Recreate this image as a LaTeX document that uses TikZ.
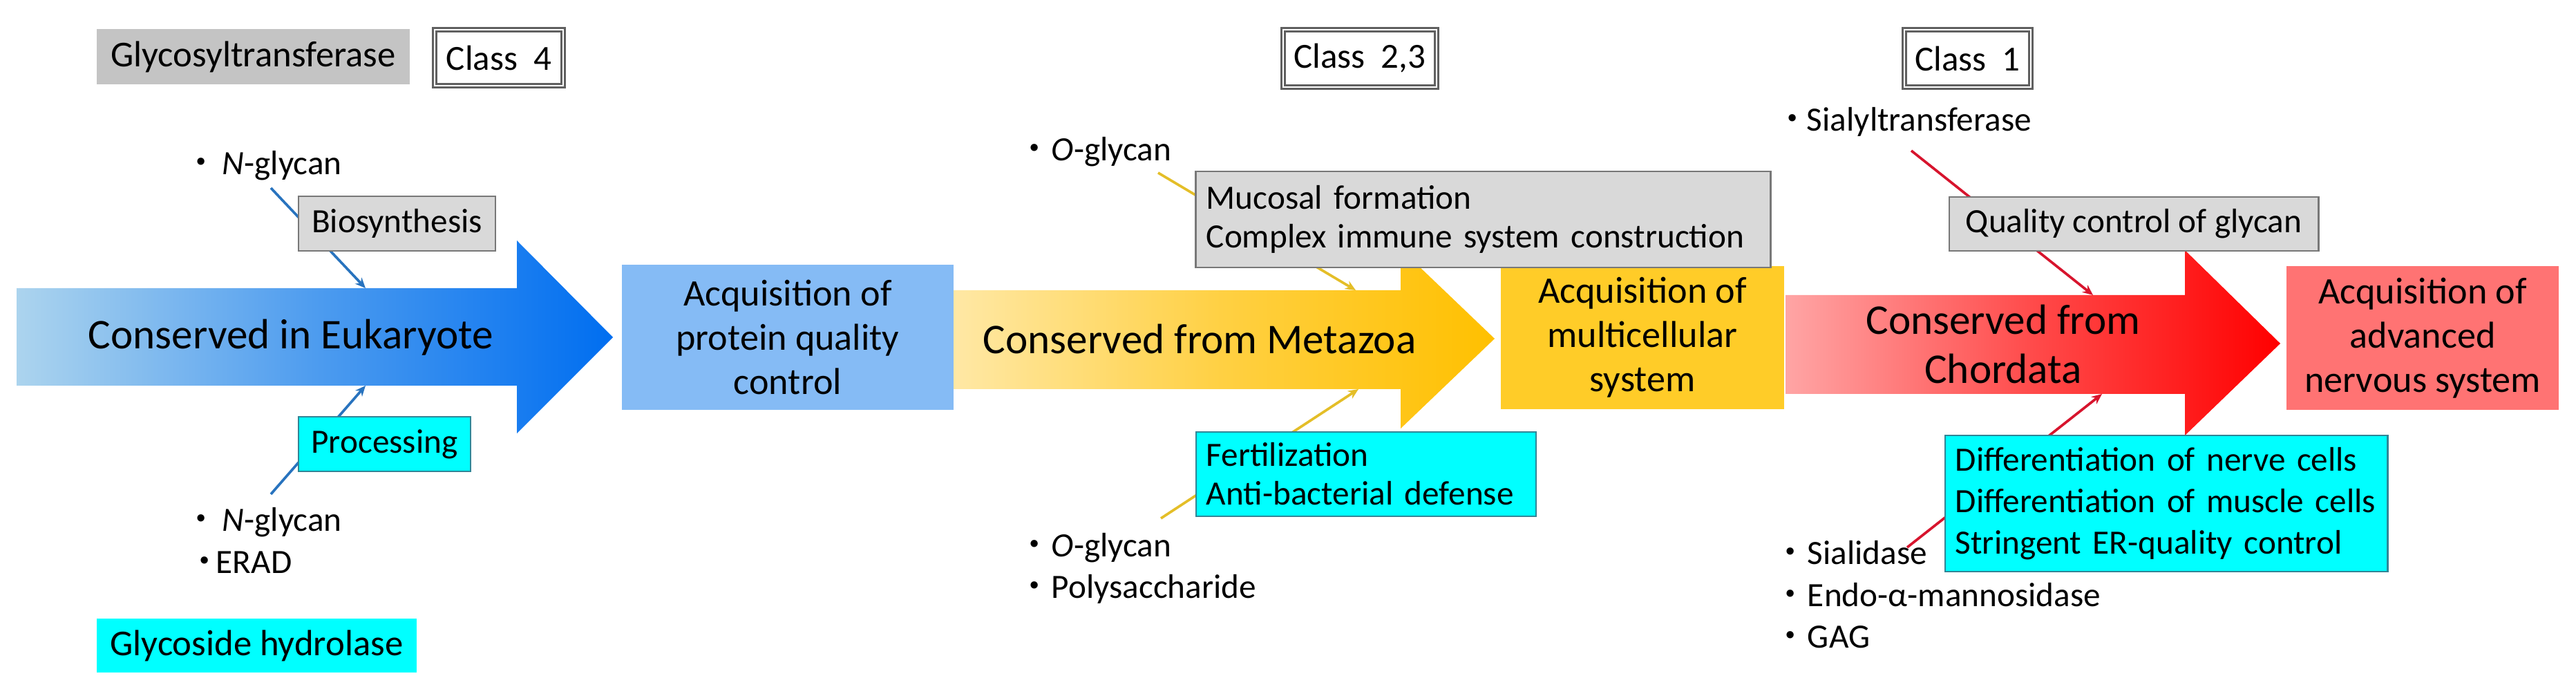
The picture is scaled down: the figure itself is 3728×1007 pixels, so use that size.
\documentclass[tikz,border=0pt]{standalone}
\usepackage{fontspec}
\setmainfont{Carlito}
\newfontfamily\cjkf{Noto Sans CJK JP}
\usetikzlibrary{arrows.meta}
\definecolor{blA}{RGB}{172,212,238}
\definecolor{blB}{RGB}{0,110,240}
\definecolor{yeA}{RGB}{255,232,165}
\definecolor{yeB}{RGB}{255,192,0}
\definecolor{reA}{RGB}{255,165,165}
\definecolor{reB}{RGB}{255,0,0}
\definecolor{accBlue}{RGB}{133,187,245}
\definecolor{accYel}{RGB}{255,204,40}
\definecolor{accRed}{RGB}{255,115,115}
\definecolor{lgray}{RGB}{217,217,217}
\definecolor{mgray}{RGB}{196,196,196}
\definecolor{bgray}{RGB}{120,120,120}
\definecolor{cyanF}{RGB}{0,255,255}
\definecolor{tealB}{RGB}{49,133,150}
\definecolor{lnBlue}{RGB}{40,115,190}
\definecolor{lnYel}{RGB}{228,190,40}
\definecolor{lnRed}{RGB}{215,20,45}
\newcommand\bul{{\cjkf ・}}
\begin{document}
\begin{tikzpicture}[x=0.01cm,y=-0.01cm,
  lab/.style={font=\fontsize{14}{16}\selectfont, inner sep=0pt, anchor=base west},
  hdr/.style={font=\fontsize{15}{17}\selectfont, inner sep=0pt},
  big/.style={font=\fontsize{17.4}{20.2}\selectfont, align=center, inner sep=0pt},
  acc/.style={font=\fontsize{15.4}{18.2}\selectfont, align=center, inner sep=0pt},
  graybox/.style={draw=bgray, line width=0.75pt, fill=lgray, font=\fontsize{14}{15.9}\selectfont, inner sep=0pt},
  cyanbox/.style={draw=tealB, line width=0.75pt, fill=cyanF, font=\fontsize{14}{15.9}\selectfont, inner sep=0pt},
  classbox/.style={draw=gray!75!black, double, line width=0.9pt, double distance=0.7pt, fill=white, font=\fontsize{14.5}{16}\selectfont, inner sep=0pt},
  conn/.style={line width=1.05pt, -{Stealth[length=0.15cm,width=0.13cm]}}
]
\path[use as bounding box] (0,0) rectangle (3728,1007);

% big arrows
\shade[left color=blA, right color=blB, middle color=blB!55!blA] (24,417) -- (748,417) -- (748,348) -- (887,488) -- (748,627) -- (748,558) -- (24,558) -- cycle;
\shade[left color=yeA, right color=yeB, middle color=yeB!60!yeA] (1380,420) -- (2027,420) -- (2027,360) -- (2163,490) -- (2027,620) -- (2027,563) -- (1380,563) -- cycle;
\shade[left color=reA, right color=reB, middle color=reB!55!reA] (2584,427) -- (3162,427) -- (3162,362) -- (3300,497) -- (3162,630) -- (3162,570) -- (2584,570) -- cycle;

\node[big] (euk) at (421,488) {Conserved in Eukaryote};
\node[big] (meta) at (1736,490) {Conserved from Metazoa};
\node[big] (chor) at (2899,498) {Conserved from\\Chordata};

% acquisition boxes
\node[acc, fill=accBlue, minimum width=4.80cm, minimum height=2.10cm] (accP) at (1140,488) {Acquisition of\\protein quality\\control};
\node[acc, fill=accYel, minimum width=4.10cm, minimum height=2.07cm] (accM) at (2377,488.5) {Acquisition of\\multicellular\\system};
\node[acc, fill=accRed, minimum width=3.94cm, minimum height=2.08cm] (accN) at (3506,489) {Acquisition of\\advanced\\nervous system};

% headers
\node[hdr, fill=mgray, minimum width=4.53cm, minimum height=0.80cm] (gt) at (366.5,82) {Glycosyltransferase};
\node[classbox, minimum width=1.86cm, minimum height=0.81cm] (c4) at (722,83.5) {Class\ \ 4};
\node[classbox, minimum width=2.22cm, minimum height=0.83cm] (c23) at (1968,84.5) {Class\ \ 2,3};
\node[classbox, minimum width=1.83cm, minimum height=0.83cm] (c1) at (2847.5,84.5) {Class\ \ 1};
\node[hdr, fill=cyanF, minimum width=4.63cm, minimum height=0.78cm] (gh) at (371.5,934) {Glycoside hydrolase};

% bullet texts
\node[lab] (ng1) at (266,253) {\bul\hspace{0.06cm}\textit{N}-glycan};
\node[lab] (ng2) at (266,768) {\bul\hspace{0.06cm}\textit{N}-glycan};
\node[lab] (erad) at (271,830) {\bul\hspace{-0.08cm}ERAD};
\node[lab] (og1) at (1472,233) {\bul\textit{O}-glycan};
\node[lab] (og2) at (1472,806) {\bul\textit{O}-glycan};
\node[lab] (poly) at (1472,865) {\bul Polysaccharide};
\node[lab] (sialT) at (2569,190) {\bul\hspace{-0.04cm}Sialyltransferase};
\node[lab] (sialD) at (2566,817) {\bul Sialidase};
\node[lab] (endo) at (2566,877) {\bul Endo-α-mannosidase};
\node[lab] (gag) at (2566,937) {\bul GAG};

% connector end points
\coordinate (bS1) at (392,272);  \coordinate (bE1) at (529,417);
\coordinate (bS2) at (392,715);  \coordinate (bE2) at (529,558);
\coordinate (yS1) at (1676,250); \coordinate (yE1) at (1962,420);
\coordinate (yS2) at (1680,750); \coordinate (yE2) at (1966,563);
\coordinate (rS1) at (2766,218); \coordinate (rE1) at (3029,427);
\coordinate (rS2) at (2760,792); \coordinate (rE2) at (3042,570);

\draw[conn, lnBlue] (bS1) -- (bE1);
\draw[conn, lnBlue] (bS2) -- (bE2);
\draw[conn, lnYel] (yS1) -- (yE1);
\draw[conn, lnYel] (yS2) -- (yE2);
\draw[conn, lnRed] (rS1) -- (rE1);
\draw[conn, lnRed] (rS2) -- (rE2);

% label boxes (on top of connectors)
\node[graybox, minimum width=2.85cm, minimum height=0.79cm] (bio) at (574.5,323.5) {Biosynthesis};
\node[cyanbox, minimum width=2.49cm, minimum height=0.79cm] (proc) at (556.5,642.5) {Processing};
\node[graybox, minimum width=8.31cm, minimum height=1.39cm, text width=8.01cm, align=left] (muc) at (2146.5,317.5) {Mucosal formation\\Complex immune system construction};
\node[cyanbox, minimum width=4.92cm, minimum height=1.22cm, text width=4.62cm, align=left] (fert) at (1977,686) {Fertilization\\Anti-bacterial defense};
\node[graybox, minimum width=5.34cm, minimum height=0.78cm] (qc) at (3088,324) {Quality control of glycan};
\node[cyanbox, minimum width=6.40cm, minimum height=1.97cm, text width=6.10cm, align=left, font=\fontsize{14}{17}\selectfont] (diff) at (3135,728.5) {Differentiation of nerve cells\\Differentiation of muscle cells\\Stringent ER-quality control};
\end{tikzpicture}
\end{document}
